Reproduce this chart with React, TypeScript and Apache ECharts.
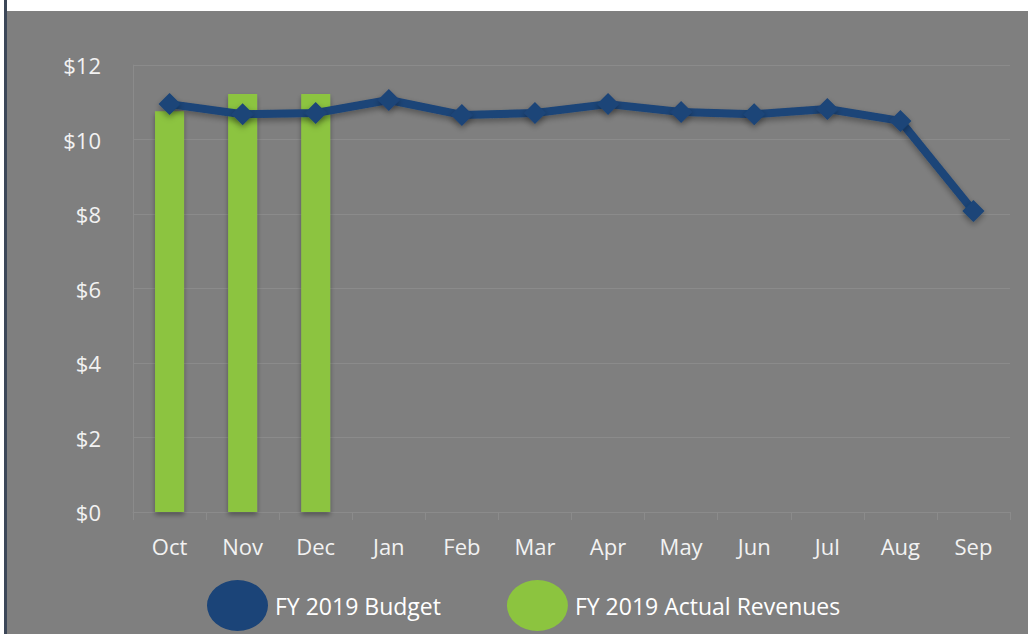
import React, { useEffect, useRef } from "react";
import * as echarts from "echarts";

const months = ["Oct", "Nov", "Dec", "Jan", "Feb", "Mar", "Apr", "May", "Jun", "Jul", "Aug", "Sep"];
const budget = [10.95, 10.68, 10.71, 11.06, 10.66, 10.71, 10.95, 10.74, 10.68, 10.82, 10.5, 8.08];
const actual: (number | null)[] = [10.76, 11.22, 11.22, null, null, null, null, null, null, null, null, null];
const budgetName = "FY 2019 Budget";
const actualName = "FY 2019 Actual Revenues";

const FONT = "'Open Sans', sans-serif";
const BLUE = "#1b4478";
const GREEN = "#8cc43f";
const GRIDC = "#8b8b8b";
const ELLIPSE = "path://M0,25.5 A30.5,25.5 0 1,1 61,25.5 A30.5,25.5 0 1,1 0,25.5 Z";

export default function App() {
  const ref = useRef<HTMLDivElement>(null);
  useEffect(() => {
    if (!ref.current) return;
    const chart = echarts.init(ref.current, undefined, { renderer: "svg" });
    chart.setOption({
      animation: false,
      backgroundColor: "#7f7f7f",
      grid: { left: 126, right: 18, top: 54, bottom: 122 },
      legend: {
        data: [budgetName, actualName],
        left: 195,
        top: 564,
        icon: ELLIPSE,
        itemWidth: 61,
        itemHeight: 51,
        itemGap: 66,
        textStyle: { color: "#ffffff", fontSize: 23, fontFamily: FONT, padding: [0, 0, 0, 2] },
        itemStyle: { shadowBlur: 0, shadowColor: "transparent", borderWidth: 0 },
        lineStyle: { width: 0 },
      },
      xAxis: {
        type: "category",
        data: months,
        boundaryGap: true,
        axisLine: { show: true, lineStyle: { color: GRIDC, width: 1 } },
        axisTick: { show: true, length: 8, lineStyle: { color: GRIDC } },
        axisLabel: { color: "#f2f2f2", fontSize: 22, fontFamily: FONT, margin: 23 },
      },
      yAxis: {
        type: "value",
        min: 0,
        max: 12,
        interval: 2,
        axisLine: { show: true, lineStyle: { color: GRIDC } },
        axisTick: { show: false },
        splitLine: { lineStyle: { color: GRIDC, width: 1 } },
        axisLabel: {
          color: "#f2f2f2",
          fontSize: 22,
          fontFamily: FONT,
          margin: 32,
          formatter: (v: number) => "$" + v,
        },
      },
      series: [
        {
          name: budgetName,
          type: "line",
          data: budget,
          z: 5,
          symbol: "diamond",
          symbolSize: 22,
          lineStyle: {
            color: BLUE,
            width: 8,
            shadowColor: "rgba(0,0,0,0.35)",
            shadowBlur: 6,
            shadowOffsetY: 3,
          },
          itemStyle: {
            color: BLUE,
            shadowColor: "rgba(0,0,0,0.35)",
            shadowBlur: 6,
            shadowOffsetY: 3,
          },
        },
        {
          name: actualName,
          type: "bar",
          data: actual,
          z: 2,
          barWidth: 29,
          itemStyle: {
            color: GREEN,
            shadowColor: "rgba(0,0,0,0.35)",
            shadowBlur: 5,
            shadowOffsetY: 3,
          },
        },
      ],
    });
    return () => chart.dispose();
  }, []);
  return (
    <div style={{ position: "fixed", left: 0, top: 0, width: 1028, height: 634, background: "#ffffff" }}>
      <div style={{ position: "absolute", left: 4, top: 0, width: 3, height: 634, background: "#3c4758" }} />
      <div ref={ref} style={{ position: "absolute", left: 7, top: 11, width: 1021, height: 623 }} />
    </div>
  );
}
